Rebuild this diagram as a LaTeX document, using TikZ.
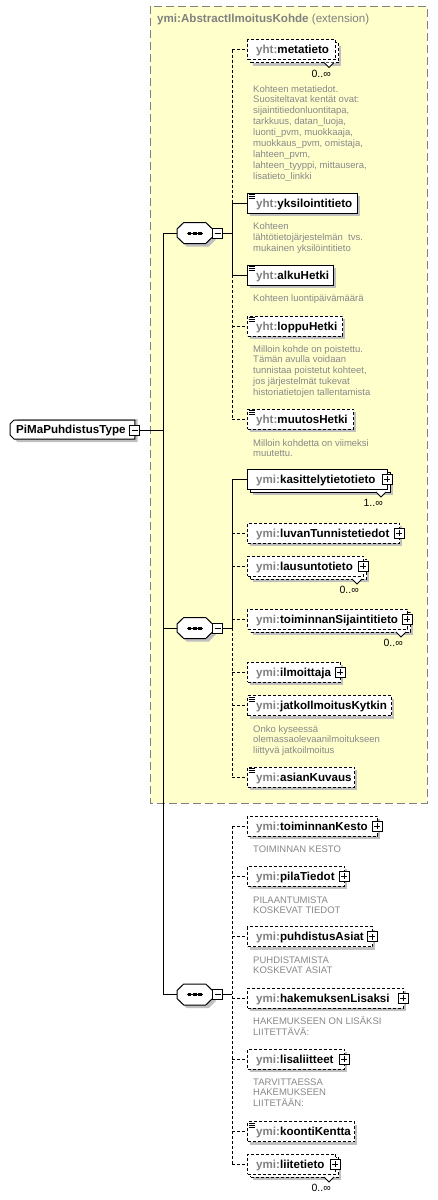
\documentclass[tikz,border=0pt]{standalone}
\usepackage{fontspec}
\setmainfont{Liberation Sans}
\definecolor{ybg}{HTML}{FFFFCC}
\definecolor{ybord}{HTML}{808080}
\definecolor{pfx}{HTML}{808080}
\definecolor{docc}{HTML}{888888}
\definecolor{shd}{HTML}{C0C0C0}
\tikzset{
 ln/.style={line width=1pt},
 opt/.style={dash pattern=on 3pt off 2pt},
 solid/.style={},
 ebox/.style={rectangle, draw=black, fill=white, line width=1pt, minimum height=20pt, inner sep=0pt, anchor=west},
 sbox/.style={rectangle, fill=shd, draw=none, minimum height=20pt, inner sep=0pt, anchor=west},
 lbl/.style={font=\fontsize{11.6}{13}\bfseries\selectfont, inner sep=0pt, anchor=base west},
 docn/.style={font=\fontsize{9.5}{10.9}\selectfont, text=docc, inner sep=0pt, anchor=base west},
 mult/.style={font=\fontsize{10.5}{12}\selectfont, inner sep=0pt, anchor=east},
 pmbox/.style={rectangle, draw=black, fill=white, line width=0.8pt, minimum size=10pt, inner sep=0pt},
 compo/.style={rectangle, draw=none, minimum width=35.5pt, minimum height=21pt, inner sep=0pt},
 octo/.style={draw=black, fill=white, line width=1pt},
 octos/.style={fill=shd},
}
\newcommand\doclines[1]{\vtop{\baselineskip=10.9pt\lineskiplimit=-20pt\halign{##\hfil\cr#1\crcr}}}
\newcommand\elem[6]{%
 \node[sbox, minimum width={#4-247}] (#1-s) at (250,#3+3) {};
 \node[ebox,#2, minimum width={#4-247}] (#1) at (247,#3) {};
 \node[lbl] (#1-t) at (256,#3+4) {\textcolor{pfx}{#5}#6};
}
\newcommand\elemm[7]{%
 \node[sbox, minimum width={#4-247}] (#1-s) at (253,#3+6) {};
 \node[ebox,#2, minimum width={#4-247}] (#1-b) at (250,#3+3) {};
 \draw[fill=white, line width=0.8pt] (#4-11,#3+13) -- (#4-6,#3+18) -- (#4-1,#3+13);
 \node[ebox,#2, minimum width={#4-247}] (#1) at (247,#3) {};
 \node[lbl] (#1-t) at (256,#3+4) {\textcolor{pfx}{#5}#6};
 \node[mult] (#1-m) at (#4-4,#3+24) {#7};
}
\newcommand\plusb[3]{%
 \node[pmbox] (#1) at (#2,#3) {};
 \draw[line width=0.8pt] (#1.center) ++(-3,0) -- ++(6,0);
 \draw[line width=0.8pt] (#1.center) ++(0,-3) -- ++(0,6);
}
\newcommand\minusb[3]{%
 \node[pmbox] (#1) at (#2,#3) {};
 \draw[line width=0.8pt] (#1.center) ++(-3,0) -- ++(6,0);
}
\newcommand\simp[1]{%
 \draw[line width=0.7pt] (248.5,#1-8.5)--(254.5,#1-8.5) (248.5,#1-6.5)--(254.5,#1-6.5) (248.5,#1-4.5)--(254.5,#1-4.5);
}
\newcommand\octpath[2]{(#1-17.75,#2-4) -- (#1-11,#2-10.5) -- (#1+11,#2-10.5) -- (#1+17.75,#2-4) -- (#1+17.75,#2+4) -- (#1+11,#2+10.5) -- (#1-11,#2+10.5) -- (#1-17.75,#2+4) -- cycle}
\newcommand\compositor[2]{% name, y
 \node[compo] (#1) at (194.75,#2) {};
 \fill[octos] \octpath{197.75}{#2+3};
 \draw[octo] \octpath{194.75}{#2};
 \draw[line width=0.9pt] (186.5,#2) -- (203,#2);
 \fill (187.8,#2-1.5) rectangle (191.3,#2+1.5);
 \fill (193,#2-1.5) rectangle (196.5,#2+1.5);
 \fill (198.2,#2-1.5) rectangle (201.7,#2+1.5);
}
\begin{document}
\begin{tikzpicture}[x=1pt,y=-1pt]
\useasboundingbox (0,0) rectangle (438,1200);
\fill[white] (0,0) rectangle (438,1200);
\draw[ybord, fill=ybg, line width=1pt, dash pattern=on 8pt off 4pt] (150,6) rectangle (427,803);
\node[lbl, text=pfx] (ext) at (157,22.5) {ymi:AbstractIlmoitusKohde \mdseries(extension)};

% root
\fill[shd] (13.5,423) -- (17.5,419) -- (137.5,419) -- (137.5,442) -- (17.5,442) -- (13.5,438) -- cycle;
\node[rectangle, draw=none, minimum width=124.5pt, minimum height=19pt, inner sep=0pt, anchor=west] (root) at (10,429.5) {};
\draw[octo] (root.west) ++(0,-5.5) -- ++(4,-4) -| (root.east) |- (14,439) -- ++(-4,-4) -- cycle;
\node[lbl] (root-t) at (16,433.5) {PiMaPuhdistusType};
\minusb{rootm}{134.5}{430}
\coordinate (trunk) at (163,430);

\compositor{seq1}{233}
\compositor{seq2}{628}
\compositor{seq3}{994.5}
\minusb{seq1m}{217.5}{233}
\minusb{seq2m}{217.5}{628}
\minusb{seq3m}{217.5}{994.5}
\coordinate (br1) at (232,233);
\coordinate (br2) at (232,628);
\coordinate (br3) at (232,994.5);

\draw[ln] (rootm.east) -- (rootm.east -| trunk);
\draw[ln] (seq1.west) -- (seq1.west -| trunk) -- (seq3.west -| trunk) -- (seq3.west);
\draw[ln] (seq2.west) -- (seq2.west -| trunk);
\draw[ln] (seq1m.east) -- (br1);
\draw[ln] (seq2m.east) -- (br2);
\draw[ln] (seq3m.east) -- (br3);

% ---- sequence 1
\elemm{metatieto}{opt}{49.5}{335}{yht:}{metatieto}{0..∞}
\node[docn] (metatieto-d) at (253,92) {\doclines{Kohteen metatiedot.\cr Suositeltavat kentät ovat:\cr sijaintitiedonluontitapa,\cr tarkkuus, datan\_luoja,\cr luonti\_pvm, muokkaaja,\cr muokkaus\_pvm, omistaja,\cr lahteen\_pvm,\cr lahteen\_tyyppi, mittausera,\cr lisatieto\_linkki}};
\elem{yksilointitieto}{solid}{203}{357}{yht:}{yksilointitieto}\simp{203}
\node[docn] (yksilointitieto-d) at (253,229.5) {\doclines{Kohteen\cr lähtötietojärjestelmän\ \ tvs.\cr mukainen yksilöintitieto}};
\elem{alkuHetki}{solid}{275}{333}{yht:}{alkuHetki}\simp{275}
\node[docn] (alkuHetki-d) at (253,301.5) {Kohteen luontipäivämäärä};
\elem{loppuHetki}{opt}{326}{342}{yht:}{loppuHetki}\simp{326}
\node[docn] (loppuHetki-d) at (253,352) {\doclines{Milloin kohde on poistettu.\cr Tämän avulla voidaan\cr tunnistaa poistetut kohteet,\cr jos järjestelmät tukevat\cr historiatietojen tallentamista}};
\elem{muutosHetki}{opt}{419}{353}{yht:}{muutosHetki}\simp{419}
\node[docn] (muutosHetki-d) at (253,446) {\doclines{Milloin kohdetta on viimeksi\cr muutettu.}};

\draw[ln,opt] (metatieto.west -| br1) -- (yksilointitieto.west -| br1);
\draw[ln] (yksilointitieto.west -| br1) -- (alkuHetki.west -| br1);
\draw[ln,opt] (alkuHetki.west -| br1) -- (muutosHetki.west -| br1);
\draw[ln,opt] (metatieto.west -| br1) -- (metatieto.west);
\draw[ln] (yksilointitieto.west -| br1) -- (yksilointitieto.west);
\draw[ln] (alkuHetki.west -| br1) -- (alkuHetki.west);
\draw[ln,opt] (loppuHetki.west -| br1) -- (loppuHetki.west);
\draw[ln,opt] (muutosHetki.west -| br1) -- (muutosHetki.west);

% ---- sequence 2
\elemm{kasittelytietotieto}{solid}{479}{387}{ymi:}{kasittelytietotieto}{1..∞}\plusb{kasittelytietotieto-p}{387}{479}
\elem{luvanTunnistetiedot}{opt}{533}{399}{ymi:}{luvanTunnistetiedot}\plusb{luvanTunnistetiedot-p}{399}{533}
\elemm{lausuntotieto}{opt}{566}{363}{ymi:}{lausuntotieto}{0..∞}\plusb{lausuntotieto-p}{363}{566}
\elemm{toiminnanSijaintitieto}{opt}{619}{407}{ymi:}{toiminnanSijaintitieto}{0..∞}\plusb{toiminnanSijaintitieto-p}{407}{619}
\elem{ilmoittaja}{opt}{672}{340}{ymi:}{ilmoittaja}\plusb{ilmoittaja-p}{340}{672}
\elem{jatkoIlmoitusKytkin}{opt}{705.5}{391}{ymi:}{jatkoIlmoitusKytkin}\simp{705.5}
\node[docn] (jatkoIlmoitusKytkin-d) at (253,732) {\doclines{Onko kyseessä\cr olemassaolevaanilmoitukseen\cr liittyvä jatkoilmoitus}};
\elem{asianKuvaus}{opt}{777}{354}{ymi:}{asianKuvaus}\simp{777}

\draw[ln] (kasittelytietotieto.west -| br2) -- (br2);
\draw[ln,opt] (br2) -- (asianKuvaus.west -| br2);
\draw[ln] (kasittelytietotieto.west -| br2) -- (kasittelytietotieto.west);
\foreach \c in {luvanTunnistetiedot,lausuntotieto,toiminnanSijaintitieto,ilmoittaja,jatkoIlmoitusKytkin,asianKuvaus}{
 \draw[ln,opt] (\c.west -| br2) -- (\c.west);
}

% ---- sequence 3
\elem{toiminnanKesto}{opt}{826}{377}{ymi:}{toiminnanKesto}\plusb{toiminnanKesto-p}{377}{826}
\node[docn] (toiminnanKesto-d) at (253,852.5) {TOIMINNAN KESTO};
\elem{pilaTiedot}{opt}{876}{344}{ymi:}{pilaTiedot}\plusb{pilaTiedot-p}{344}{876}
\node[docn] (pilaTiedot-d) at (253,903) {\doclines{PILAANTUMISTA\cr KOSKEVAT TIEDOT}};
\elem{puhdistusAsiat}{opt}{936.5}{372}{ymi:}{puhdistusAsiat}\plusb{puhdistusAsiat-p}{372}{936.5}
\node[docn] (puhdistusAsiat-d) at (253,963) {\doclines{PUHDISTAMISTA\cr KOSKEVAT ASIAT}};
\elem{hakemuksenLisaksi}{opt}{998}{403}{ymi:}{hakemuksenLisaksi}\plusb{hakemuksenLisaksi-p}{403}{998}
\node[docn] (hakemuksenLisaksi-d) at (253,1024.5) {\doclines{HAKEMUKSEEN ON LISÄKSI\cr LIITETTÄVÄ:}};
\elem{lisaliitteet}{opt}{1059}{344}{ymi:}{lisaliitteet}\plusb{lisaliitteet-p}{344}{1059}
\node[docn] (lisaliitteet-d) at (253,1085) {\doclines{TARVITTAESSA\cr HAKEMUKSEEN\cr LIITETÄÄN:}};
\elem{koontiKentta}{opt}{1131.5}{354}{ymi:}{koontiKentta}\simp{1131.5}
\elemm{liitetieto}{opt}{1164}{335}{ymi:}{liitetieto}{0..∞}\plusb{liitetieto-p}{335}{1164}

\draw[ln,opt] (toiminnanKesto.west -| br3) -- (liitetieto.west -| br3);
\foreach \c in {toiminnanKesto,pilaTiedot,puhdistusAsiat,hakemuksenLisaksi,lisaliitteet,koontiKentta,liitetieto}{
 \draw[ln,opt] (\c.west -| br3) -- (\c.west);
}
\end{tikzpicture}
\end{document}
